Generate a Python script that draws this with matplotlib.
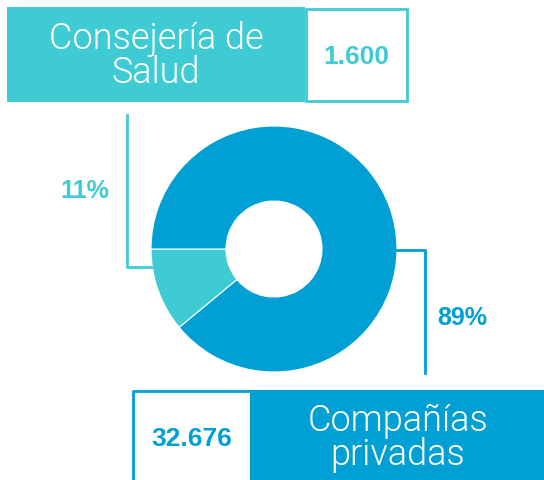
import matplotlib.pyplot as plt
from matplotlib.patches import Rectangle

# data
categories = ["Consejería de\nSalud", "Compañías\nprivadas"]
amounts = ["1.600", "32.676"]
shares = [11, 89]
colors = ["#3ECBD3", "#009FD4"]

W, H = 544, 481
fig = plt.figure(figsize=(W / 100, H / 100), dpi=100)
ax = fig.add_axes([0, 0, 1, 1])

def py(y):
    # pixel row from top -> data y
    return H - y

# donut
cx, cy, r_out, r_in = 274, py(250), 123, 48
ax.pie(shares, colors=colors, startangle=180, counterclock=True,
       center=(cx, cy), radius=r_out,
       wedgeprops=dict(width=r_out - r_in, edgecolor="white", linewidth=0.8))

# leader lines
ax.plot([127, 127, 151], [py(116), py(268), py(268)], color=colors[0], lw=2)
ax.plot([397, 425, 425], [py(251), py(251), py(374)], color=colors[1], lw=2)

# top label box
ax.add_patch(Rectangle((7, py(103)), 298, 95, facecolor=colors[0], edgecolor="none"))
ax.add_patch(Rectangle((306, py(102)), 101, 92, facecolor="white",
                       edgecolor=colors[0], lw=2))
# bottom label box
ax.add_patch(Rectangle((250, 0), W - 250, py(391), facecolor=colors[1], edgecolor="none"))
ax.plot([133, 133, 250], [0, py(392), py(392)], color=colors[1], lw=2)

fnt = "Roboto"
ax.text(156, py(56), categories[0], ha="center", va="center", color="white",
        fontsize=26, fontfamily=fnt, fontweight=300, linespacing=0.95)
ax.text(356, py(57), amounts[0], ha="center", va="center", color=colors[0],
        fontsize=19, fontweight="bold", fontfamily="Liberation Sans")
ax.text(398, py(438), categories[1], ha="center", va="center", color="white",
        fontsize=26, fontfamily=fnt, fontweight=300, linespacing=0.95)
ax.text(192, py(439), amounts[1], ha="center", va="center", color=colors[1],
        fontsize=19, fontweight="bold", fontfamily="Liberation Sans")

ax.text(85, py(191), f"{shares[0]}%", ha="center", va="center", color=colors[0],
        fontsize=18, fontweight="bold", fontfamily="Liberation Sans")
ax.text(462, py(318), f"{shares[1]}%", ha="center", va="center", color=colors[1],
        fontsize=18, fontweight="bold", fontfamily="Liberation Sans")

ax.set_xlim(0, W)
ax.set_ylim(0, H)
ax.set_aspect("auto")
ax.axis("off")
fig.savefig("out.png", dpi=100)
